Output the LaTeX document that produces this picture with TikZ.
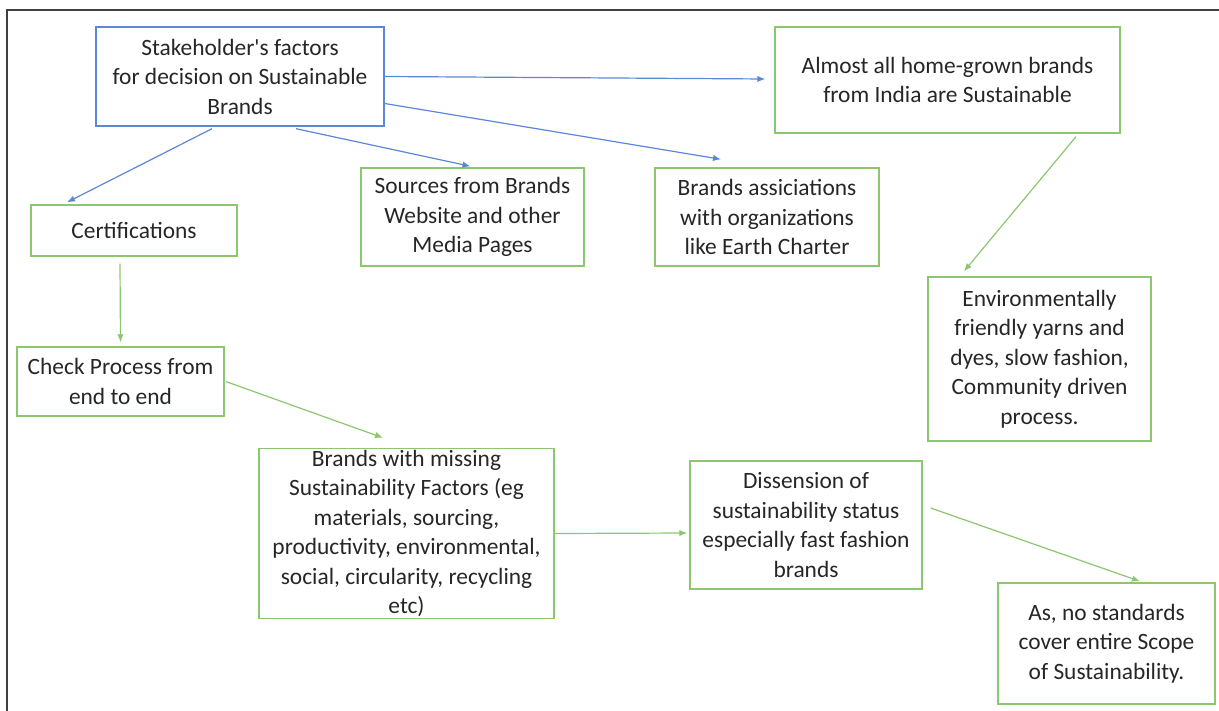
\documentclass[tikz,border=0pt]{standalone}
\usepackage{fontspec}
\setmainfont{Carlito}
\usetikzlibrary{arrows.meta,calc}
\definecolor{boxblue}{HTML}{5B87D4}
\definecolor{boxgreen}{HTML}{8CC66E}
\definecolor{txtgray}{HTML}{262626}
\begin{document}
\begin{tikzpicture}[x=0.5pt,y=-0.5pt,
    main node/.style={rectangle,draw,line width=0.7pt,inner sep=0pt,align=center,
      text=txtgray,font=\fontsize{11.7}{14.75}\selectfont},
    blue node/.style={main node,draw=boxblue},
    green node/.style={main node,draw=boxgreen}]
  \useasboundingbox (0,0) rectangle (1219,711);
  \draw[line width=1.2pt,black!75] (7,711) -- (7,10) -- (1219,10);

  \node[blue node,minimum width=144pt,minimum height=49.5pt] (1) at (240,76.5)
    {Stakeholder\textquotesingle s factors\\for decision on Sustainable\\Brands};
  \node[green node,minimum width=103pt,minimum height=25.5pt] (2) at (134,230.5) {Certifications};
  \node[green node,minimum width=111.5pt,minimum height=49pt] (3) at (472.5,217)
    {Sources from Brands\\Website and other\\Media Pages};
  \node[green node,minimum width=112pt,minimum height=49pt] (4) at (767,217)
    {Brands assiciations\\with organizations\\like Earth Charter};
  \node[green node,minimum width=172.5pt,minimum height=53pt] (5) at (947.5,80)
    {Almost all home-grown brands\\from India are Sustainable};
  \node[green node,minimum width=111.5pt,minimum height=82pt] (6) at (1039.5,359)
    {Environmentally\\friendly yarns and\\dyes, slow fashion,\\Community driven\\process.};
  \node[green node,minimum width=103.5pt,minimum height=34.5pt] (7) at (120.5,381.5)
    {Check Process from\\end to end};
  \node[green node,minimum width=147.5pt,minimum height=85pt] (8) at (406.5,533.5)
    {Brands with missing\\Sustainability Factors (eg\\materials, sourcing,\\productivity, environmental,\\social, circularity, recycling\\etc)};
  \node[green node,minimum width=116pt,minimum height=64pt] (9) at (806,525)
    {Dissension of\\sustainability status\\especially fast fashion\\brands};
  \node[green node,minimum width=108.5pt,minimum height=60.5pt] (10) at (1106.5,643.5)
    {As, no standards\\cover entire Scope\\of Sustainability.};

  \path[every edge/.style={draw=boxblue,line width=0.6pt,-{Latex[length=4pt,width=3.2pt]}}]
    ($(1.south)+(-28,2)$) edge ($(2.north)+(-67,-2)$)
    ($(1.south)+(56,2)$) edge ($(3.north)+(-2,-1)$)
    (1.east) edge ($(5.west)+(-9,-1)$)
    ($(1.east)+(0,27)$) edge ($(4.north)+(-46,-8)$);
  \path[every edge/.style={draw=boxgreen,line width=0.6pt,-{Latex[length=4pt,width=3.2pt]}}]
    ($(5.south)+(128.5,3)$) edge ($(6.north)+(-75.5,-5)$)
    ($(2.south)+(-14,7)$) edge ($(7.north)+(0,-4)$)
    ($(7.east)+(1,0)$) edge ($(8.north)+(-23.5,-10)$)
    (8.east) edge ($(9.west)+(-2,8)$)
    ($(9.east)+(8,-17)$) edge ($(10.north)+(33.5,-1)$);
\end{tikzpicture}
\end{document}
